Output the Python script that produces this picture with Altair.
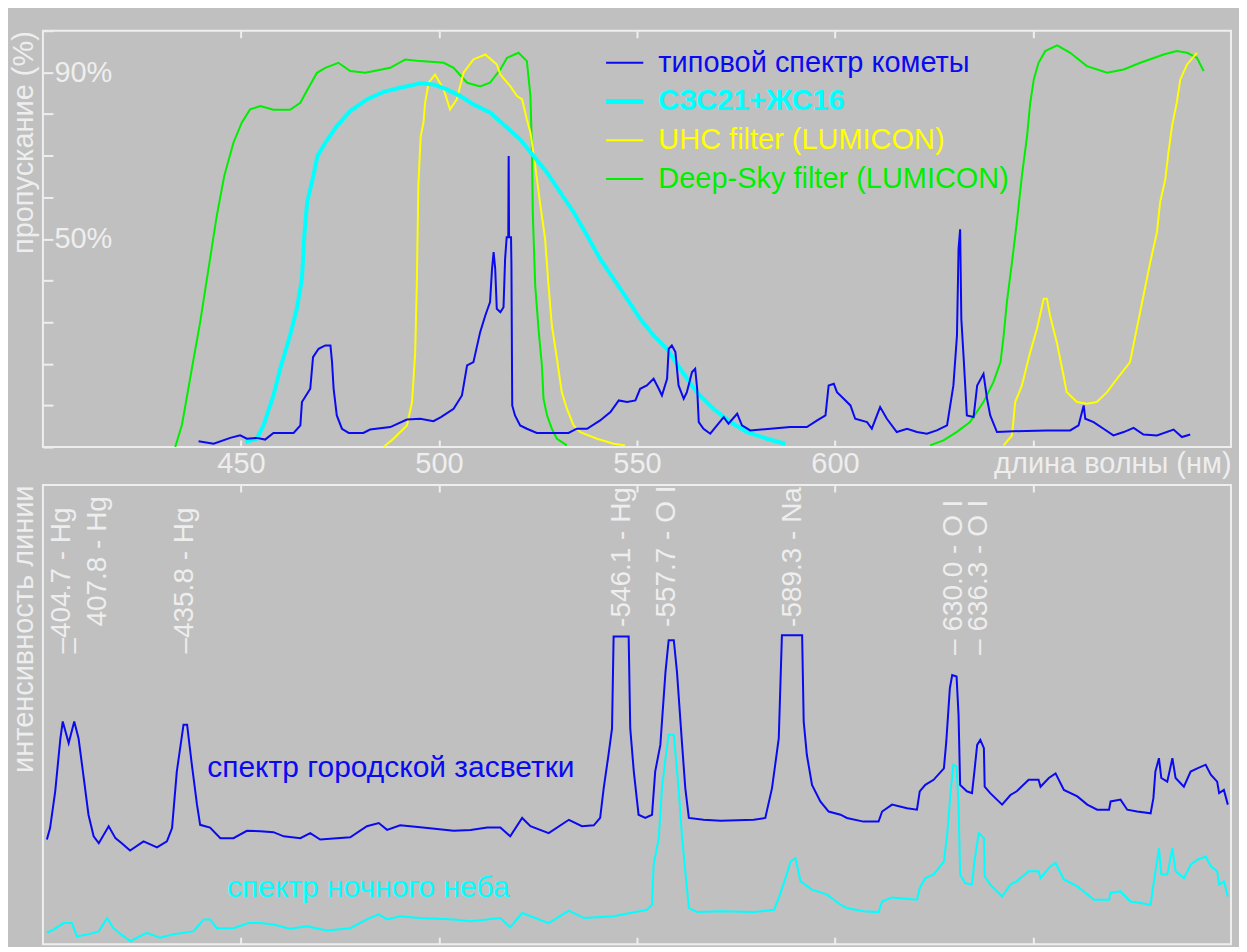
import altair as alt
import pandas as pd

# ---------------- data ----------------
# top panel: transmission (%) versus wavelength (nm)
comet = [(439.3,1.4),(443.1,0.8),(447.3,2.2),(449.8,2.8),(451.5,2.0),(454.0,2.2),(456.1,1.8),(458.2,3.4),
         (463.3,3.4),(465.0,5.2),(465.4,10.8),(467.5,14.0),(468.2,21.6),(469.6,23.6),(471.3,24.4),(472.6,24.4),
         (473.0,20.4),(473.4,14.0),(474.2,7.6),(475.5,4.4),(477.2,3.4),(480.9,3.4),(482.6,4.2),(487.7,4.8),
         (491.9,6.6),(495.3,6.8),(498.6,6.2),(500.5,7.2),(503.7,9.2),(505.8,12.4),(507.1,19.6),(508.7,20.4),
         (510.4,27.6),(511.7,31.6),(512.9,34.8),(513.4,42.8),(513.8,46.8),(514.2,42.8),(514.6,33.2),(515.5,32.4),
         (516.3,33.6),(516.7,45.2),(517.1,50.4),(517.5,50.4),(517.6,69.9),(517.7,50.4),(518.2,50.4),(518.3,43.6),
         (518.5,10.0),(519.2,7.6),(520.5,5.2),(522.2,4.4),(524.7,3.4),(532.7,3.4),(534.8,4.4),(537.4,4.4),
         (540.7,6.4),(543.3,8.4),(545.4,11.2),(547.5,10.8),(549.6,11.2),(550.8,14.0),(552.5,14.8),(554.2,16.4),
         (555.5,14.0),(556.3,12.4),(557.6,16.4),(558.0,23.6),(558.8,24.4),(559.7,22.8),(560.5,14.8),(561.8,11.6),
         (562.6,13.2),(563.9,18.0),(564.7,18.8),(565.2,14.0),(565.6,6.0),(566.8,4.4),(568.5,3.2),(570.2,5.2),
         (571.9,7.2),(573.1,5.6),(575.3,8.0),(576.5,5.2),(578.6,4.0),(583.7,4.4),(588.7,4.8),(592.9,4.8),
         (595.5,6.4),(597.6,7.6),(598.4,14.8),(599.7,15.2),(600.5,13.2),(602.2,11.6),(603.9,10.0),(605.1,6.8),
         (608.1,6.0),(609.3,4.4),(611.4,9.6),(613.1,6.8),(615.6,3.6),(618.2,4.4),(620.7,3.6),(623.2,3.2),
         (625.7,4.0),(628.3,5.2),(629.9,14.8),(630.8,26.8),(631.2,47.6),(631.6,52.3),(631.9,30.8),(632.5,21.2),
         (633.3,7.6),(635.0,7.2),(635.9,14.8),(637.5,17.6),(638.4,11.6),(639.2,7.6),(640.9,3.6),(645.1,3.8),
         (653.5,4.0),(659.4,4.0),(661.5,5.2),(662.8,10.0),(663.2,6.8),(665.3,6.0),(667.8,4.4),(670.3,2.8),
         (672.9,3.6),(675.4,4.6),(677.9,3.0),(681.3,2.8),(685.5,4.2),(687.6,2.4),(689.7,3.0)]

szs = [(451.1,1.2),(454.0,2.0),(455.7,5.2),(458.2,12.4),(459.9,18.8),(462.4,26.8),(464.1,33.2),(465.4,40.4),
       (466.0,50.8),(466.7,58.8),(468.3,65.2),(469.3,69.9),(471.3,73.1),(474.2,77.1),(477.6,80.7),(481.8,83.5),
       (486.0,85.3),(490.2,86.3),(495.3,87.4),(498.6,87.1),(502.0,85.9),(505.4,84.3),(508.7,82.3),(513.0,80.3),
       (516.3,77.5),(520.5,73.9),(523.9,69.9),(527.3,65.9),(530.6,61.2),(534.0,56.4),(537.4,50.8),(540.7,45.2),
       (544.1,40.4),(547.5,35.6),(550.8,30.8),(554.2,26.8),(557.6,23.6),(560.9,18.8),(565.1,13.2),(569.3,9.2),
       (573.6,6.0),(577.8,3.6),(582.8,2.0),(587.4,0.8)]

uhc_blue = [(486.0,0.0),(488.5,2.0),(491.9,5.2),(493.2,10.8),(494.0,22.8),(494.4,38.8),(494.8,62.8),(495.1,69.1),
            (495.4,74.7),(496.1,78.0),(496.5,82.7),(497.4,87.5),(499.0,89.5),(501.2,85.9),(502.8,81.1),(504.5,83.5),
            (506.2,89.9),(508.7,93.1),(511.7,94.3),(514.6,91.9),(515.5,89.5),(518.0,86.7),(519.7,84.3),(521.0,83.5),
            (522.2,78.7),(523.1,75.5),(524.3,67.6),(525.5,58.8),(526.8,50.0),(527.6,39.6),(528.5,29.2),(529.8,21.2),
            (531.0,13.2),(532.3,9.2),(534.0,5.2),(535.7,3.6),(539.9,2.0),(544.1,0.8),(547.0,0.4)]
uhc_red = [(642.6,0.4),(644.7,2.8),(645.5,10.8),(647.2,14.8),(649.3,22.8),(651.0,28.4),(652.7,35.6),(653.5,35.6),
           (654.3,31.6),(656.0,25.2),(657.7,17.2),(658.5,13.2),(661.1,10.8),(663.6,10.4),(666.1,10.8),(668.7,13.2),
           (671.2,16.4),(674.5,20.4),(676.2,28.4),(677.9,36.4),(679.6,44.4),(681.3,51.6),(682.1,58.8),(683.4,64.3),
           (684.2,70.7),(685.1,77.1),(686.3,82.7),(687.2,88.3),(688.9,91.9),(691.4,94.7)]

ds_blue = [(433.4,0.0),(435.1,5.3),(437.6,18.8),(439.7,30.0),(441.8,42.8),(443.9,55.6),(445.8,65.2),(448.1,73.1),
           (450.2,77.9),(452.3,81.1),(454.9,81.9),(458.2,81.0),(462.4,81.0),(465.0,82.7),(466.6,85.5),(469.2,89.9),
           (471.3,91.1),(474.6,92.3),(477.6,90.3),(481.4,89.9),(487.7,91.1),(491.5,93.1),(495.3,92.7),(501.2,92.3),
           (503.7,91.1),(507.1,87.5),(510.4,86.6),(512.9,87.5),(515.5,90.7),(517.2,93.5),(520.1,94.7),(522.2,92.7),
           (523.1,84.3),(523.5,70.7),(523.7,56.0),(524.3,38.8),(525.2,27.6),(526.0,19.6),(526.4,11.6),(527.3,7.6),
           (528.5,4.4),(529.8,2.0),(532.3,0.4)]
ds_red = [(624.0,0.4),(627.4,1.6),(630.7,3.6),(634.1,6.0),(637.5,10.8),(640.0,15.6),(641.8,20.4),(642.6,26.8),
          (643.4,34.8),(644.7,44.4),(646.0,54.7),(647.2,65.2),(648.5,74.7),(649.3,82.7),(650.2,88.3),(651.4,92.3),
          (653.1,95.1),(656.1,96.5),(659.4,94.7),(663.6,91.5),(668.7,89.9),(672.9,90.7),(677.1,92.3),(683.0,94.3),
          (686.3,95.1),(688.9,94.7),(691.4,93.5),(693.1,90.3)]

# bottom panel: relative line intensity versus wavelength (nm)
city = [(401.0,22.8),(401.8,25.3),(403.1,33.3),(404.4,44.8),(405.0,48.5),(406.5,43.8),(407.9,48.5),(409.0,44.8),
        (410.3,36.2),(411.5,28.2),(412.8,23.5),(414.1,22.0),(416.6,25.7),(418.3,23.1),(419.9,22.0),(422.0,20.4),
        (425.4,22.4),(428.8,21.1),(431.3,22.4),(432.6,25.3),(433.8,37.6),(435.5,47.8),(436.4,47.8),(437.6,39.1),
        (438.9,30.4),(439.7,26.0),(442.2,25.4),(444.8,23.1),(448.1,23.1),(451.5,24.7),(454.9,24.6),(458.2,24.4),
        (460.8,23.5),(465.0,23.1),(467.5,24.2),(470.0,22.8),(477.6,23.3),(481.8,25.7),(484.8,26.4),(486.9,24.9),
        (490.2,25.9),(495.3,25.5),(503.7,24.7),(508.0,24.9),(512.2,25.4),(515.5,25.4),(518.0,23.5),(521.0,27.5),
        (523.1,25.7),(527.7,24.2),(532.8,27.1),(536.1,25.7),(539.1,25.9),(540.7,27.5),(541.6,34.0),(542.8,41.2),
        (543.7,47.0),(544.1,67.0),(547.9,67.0),(548.3,47.0),(549.2,37.6),(550.4,28.2),(552.1,27.5),(553.8,28.2),
        (554.6,37.6),(555.9,43.4),(557.2,59.3),(558.0,66.2),(559.3,66.2),(560.1,59.3),(561.4,43.4),(562.2,34.0),
        (563.1,27.5),(566.8,27.1),(571.1,26.9),(579.5,27.1),(582.4,27.5),(584.1,34.0),(585.8,44.8),(586.6,67.3),
        (591.7,67.3),(592.1,48.5),(592.9,41.2),(594.2,34.7),(596.3,31.1),(598.4,28.9),(601.4,28.2),(603.0,27.5),
        (607.2,26.7),(611.0,26.7),(611.9,28.9),(614.4,30.4),(618.2,29.6),(620.7,29.3),(621.4,33.3),(622.8,34.7),
        (624.9,35.8),(627.5,38.3),(628.1,44.1),(629.0,55.7),(629.6,58.6),(630.7,58.3),(631.2,49.9),(631.6,34.7),
        (633.3,33.3),(634.6,32.9),(635.2,37.6),(635.9,43.4),(636.7,44.5),(637.6,42.7),(637.8,34.3),(639.2,32.9),
        (642.2,30.4),(644.3,32.5),(645.9,33.3),(648.9,35.8),(651.4,35.8),(651.9,34.3),(654.0,36.2),(655.7,37.2),
        (657.8,33.6),(661.2,32.2),(663.7,30.4),(666.2,29.3),(669.2,29.3),(669.6,31.1),(672.1,31.5),(673.8,29.3),
        (676.3,28.9),(679.7,28.5),(680.4,31.8),(680.9,37.6),(681.8,40.5),(682.4,36.2),(683.9,35.4),(685.2,40.5),
        (686.0,36.2),(688.1,34.3),(689.8,37.6),(691.5,38.3),(693.6,39.1),(694.9,36.9),(696.5,35.4),(697.0,32.9),
        (698.2,33.6),(699.2,30.4)]

sky = [(401.0,2.5),(402.7,3.2),(405.2,4.6),(407.3,4.6),(408.6,1.7),(411.1,2.1),(414.1,2.8),(416.2,5.7),
       (417.8,3.5),(420.4,1.7),(422.1,0.7),(426.2,2.5),(429.6,1.4),(433.0,2.2),(438.0,2.8),(440.6,5.4),
       (442.2,5.4),(443.9,3.5),(448.1,3.5),(451.9,4.6),(454.9,4.6),(458.2,4.3),(462.4,3.4),(466.6,3.9),
       (471.7,3.0),(477.6,3.5),(481.8,5.4),(484.8,6.5),(486.9,5.4),(490.2,6.1),(495.3,5.7),(503.7,5.4),
       (508.0,5.0),(515.5,5.7),(518.0,3.7),(521.0,6.8),(527.7,4.6),(532.8,7.3),(536.6,5.7),(544.1,6.1),
       (548.3,6.8),(552.5,7.5),(553.8,8.6),(554.2,17.3),(555.5,23.1),(556.3,34.0),(557.2,40.5),(558.0,45.6),
       (559.3,45.6),(560.5,34.0),(561.4,23.1),(562.2,15.9),(563.1,7.9),(565.2,7.0),(571.1,7.2),(579.5,7.0),
       (584.6,7.5),(585.8,10.1),(587.5,14.4),(588.8,18.0),(590.0,18.8),(591.3,13.7),(594.2,11.9),(598.0,10.8),
       (601.4,8.6),(603.0,7.9),(607.2,7.2),(611.0,7.0),(611.9,9.3),(614.4,10.2),(620.7,9.7),(621.4,12.2),
       (622.8,14.4),(624.9,15.2),(627.5,18.0),(628.4,24.6),(629.2,33.3),(629.9,39.1),(630.7,38.7),(631.2,30.4),
       (631.6,15.2),(632.9,13.3),(634.6,13.0),(635.2,18.0),(636.3,24.2),(637.6,23.1),(637.8,14.8),(639.2,13.0),
       (642.2,10.4),(644.3,13.0),(645.9,13.7),(648.9,15.9),(651.4,15.9),(651.9,14.4),(654.4,17.0),(655.7,17.7),
       (657.8,14.1),(661.2,12.6),(665.4,9.7),(669.2,9.7),(669.6,11.2),(672.1,11.5),(674.6,9.3),(677.1,9.0),
       (679.7,8.6),(680.4,13.0),(681.8,20.9),(682.4,15.2),(683.9,15.2),(685.2,20.9),(686.0,15.9),(688.1,14.4),
       (689.8,17.3),(691.5,18.4),(693.6,19.1),(694.9,17.0),(696.5,15.9),(697.0,13.0),(698.2,13.7),(699.2,10.4)]

line_nm = [404.7, 407.8, 435.8, 546.1, 557.7, 589.3, 630.0, 636.3]
line_ion = ["Hg", "Hg", "Hg", "Hg", "O I", "Na", "O I", "O I"]

legend_names = ["типовой спектр кометы", "СЗС21+ЖС16", "UHC filter (LUMICON)", "Deep-Sky filter (LUMICON)"]
curve_names = ["спектр городской засветки", "спектр ночного неба"]

x_ticks = [450, 500, 550, 600, 650]
x_labelled = [450, 500, 550, 600]
y_ticks = [0, 10, 20, 30, 40, 50, 60, 70, 80, 90, 100]
y_labelled = [50, 90]

# ---------------- style / layout ----------------
BG = "#c0c0c0"
FG = "#eeeeee"
BLUE = "#0a0af0"
CYAN = "#00ffff"
YELLOW = "#ffff00"
GREEN = "#00ee00"
FONT = "Liberation Sans"
FS = 29        # axis text
FS_L = 29      # legend
FS_T = 30      # curve captions
FS_R = 28      # rotated line labels
W, H1, H2 = 1190, 417, 460

xs = alt.Scale(domain=[400, 700], nice=False, zero=False)
ys = alt.Scale(domain=[0, 100], nice=False, zero=False)


def frame(pairs, seg=0):
    return pd.DataFrame({"nm": [p[0] for p in pairs], "v": [p[1] for p in pairs], "seg": seg})


def tick_axis(orient, h):
    return alt.Axis(orient=orient, offset=-h, values=x_ticks, labels=False, domain=False, grid=False,
                    ticks=True, tickSize=7, tickWidth=2, tickColor=FG, title="")


x_label_axis = alt.Axis(orient="bottom", values=x_labelled, ticks=False, tickSize=0, domain=False, grid=False,
                        labelFontSize=FS, labelFont=FONT,
                        labelColor=FG, labelPadding=2, labelFlush=False, labelOverlap=False,
                        title="длина волны (нм)", titleAnchor="end", titleAlign="right", titleBaseline="top",
                        titleY=2, titleFontSize=FS, titleFont=FONT, titleFontWeight="normal", titleColor=FG)

y_tick_axis = alt.Axis(orient="right", offset=-W, values=y_ticks, domain=False, grid=False, labels=False,
                       tickSize=10, tickWidth=2, tickColor=FG, title="")

y_label_axis = alt.Axis(orient="right", offset=-W, values=y_labelled, domain=False, grid=False,
                        ticks=False, tickSize=0, labelExpr="datum.value + '%'",
                        labelFontSize=FS, labelFont=FONT, labelColor=FG, labelPadding=11,
                        labelFlush=False, labelOverlap=False, labelBaseline="middle", title="")


def y_title_axis(text):
    return alt.Axis(orient="left", ticks=False, labels=False, domain=False, grid=False, minExtent=0,
                    title=text, titleAnchor="end", titlePadding=4, titleFontSize=FS, titleFont=FONT,
                    titleFontWeight="normal", titleColor=FG)


def line(df, color, width, x_axis=None, y_axis=None):
    return alt.Chart(df).mark_line(color=color, strokeWidth=width).encode(
        x=alt.X("nm:Q", scale=xs, axis=x_axis),
        y=alt.Y("v:Q", scale=ys, axis=y_axis),
        detail="seg:N",
    )


# ---------------- top panel ----------------
ds_df = pd.concat([frame(ds_blue, 0), frame(ds_red, 1)])
uhc_df = pd.concat([frame(uhc_blue, 0), frame(uhc_red, 1)])

g_line = line(ds_df, GREEN, 2, y_axis=y_label_axis)
y_line = line(uhc_df, YELLOW, 2, x_axis=tick_axis("top", H1))
c_line = line(frame(szs), CYAN, 4, x_axis=tick_axis("bottom", H1), y_axis=y_title_axis("пропускание (%)"))
b_line = line(frame(comet), BLUE, 2, x_axis=x_label_axis, y_axis=y_tick_axis)

leg_colors = [BLUE, CYAN, YELLOW, GREEN]
leg_widths = [2, 5, 2, 2]
LEG_X0, LEG_X1, LEG_XT, LEG_Y0, LEG_DY = 542.2, 551.6, 555.4, 92.3, 9.3
leg_df = pd.DataFrame({
    "name": legend_names,
    "color": leg_colors,
    "sw": leg_widths,
    "bold": [False, True, False, False],
    "y": [LEG_Y0 - LEG_DY * i for i in range(len(legend_names))],
    "x0": LEG_X0, "x1": LEG_X1, "xt": LEG_XT,
})
leg_rules = alt.Chart(leg_df).mark_rule().encode(
    x=alt.X("x0:Q", scale=xs, axis=None), x2="x1:Q",
    y=alt.Y("y:Q", scale=ys, axis=None),
    color=alt.Color("color:N", scale=None),
    strokeWidth=alt.StrokeWidth("sw:Q", scale=None),
)
leg_text = alt.Chart(leg_df[~leg_df["bold"]]).mark_text(
    align="left", baseline="middle", fontSize=FS_L, font=FONT).encode(
    x=alt.X("xt:Q", scale=xs, axis=None), y=alt.Y("y:Q", scale=ys, axis=None),
    text="name:N", color=alt.Color("color:N", scale=None))
leg_text_b = alt.Chart(leg_df[leg_df["bold"]]).mark_text(
    align="left", baseline="middle", fontSize=FS_L, font=FONT, fontWeight="bold").encode(
    x=alt.X("xt:Q", scale=xs, axis=None), y=alt.Y("y:Q", scale=ys, axis=None),
    text="name:N", color=alt.Color("color:N", scale=None))

top = alt.layer(g_line, y_line, c_line, b_line, leg_rules, leg_text, leg_text_b).properties(
    width=W, height=H1).resolve_axis(x="independent", y="independent")

# ---------------- bottom panel ----------------
city_line = line(frame(city), BLUE, 2, x_axis=tick_axis("bottom", H2), y_axis=y_title_axis("интенсивность линии"))
sky_line = line(frame(sky), CYAN, 2, x_axis=tick_axis("top", H2))

saturated = {546.1, 557.7, 589.3}
far = {630.0, 636.3}
labels = []
for nm, ion in zip(line_nm, line_ion):
    if nm in saturated:
        txt, base = f"-{nm:.1f} - {ion}", 69.1
    elif nm in far:
        txt, base = f"–  {nm:.1f} - {ion}", 63.0
    elif nm == 407.8:
        txt, base = "–", 63.3
    else:
        txt, base = f"–{nm:.1f} - {ion}", 63.3
    labels.append({"nm": nm, "v": base, "t": txt})
lab_df = pd.DataFrame(labels)
shift_df = pd.DataFrame([{"nm": 407.8, "v": 63.3, "t": "407.8 - Hg"}])

lab = alt.Chart(lab_df).mark_text(angle=270, align="left", baseline="middle", fontSize=FS_R, font=FONT,
                                  color=FG).encode(
    x=alt.X("nm:Q", scale=xs, axis=None), y=alt.Y("v:Q", scale=ys, axis=None), text="t:N")
lab_shift = alt.Chart(shift_df).mark_text(angle=270, align="left", baseline="middle", fontSize=FS_R, font=FONT,
                                          color=FG, dx=27, dy=24).encode(
    x=alt.X("nm:Q", scale=xs, axis=None), y=alt.Y("v:Q", scale=ys, axis=None), text="t:N")

cl_df = pd.DataFrame({"t": curve_names, "nm": [441.5, 446.5], "v": [38.3, 12.2], "color": [BLUE, CYAN]})
curve_lab = alt.Chart(cl_df).mark_text(align="left", baseline="middle", fontSize=FS_T, font=FONT).encode(
    x=alt.X("nm:Q", scale=xs, axis=None), y=alt.Y("v:Q", scale=ys, axis=None), text="t:N",
    color=alt.Color("color:N", scale=None))

bottom = alt.layer(sky_line, city_line, lab, lab_shift, curve_lab).properties(
    width=W, height=H2).resolve_axis(x="independent", y="independent")

chart = alt.vconcat(top, bottom, spacing=38, bounds="flush").properties(
    background=BG, padding={"left": 0, "top": 20, "right": 6, "bottom": 0}
).configure_view(stroke=FG, strokeWidth=2)

chart.save("out.html", embed_options={"renderer": "svg", "actions": False})
